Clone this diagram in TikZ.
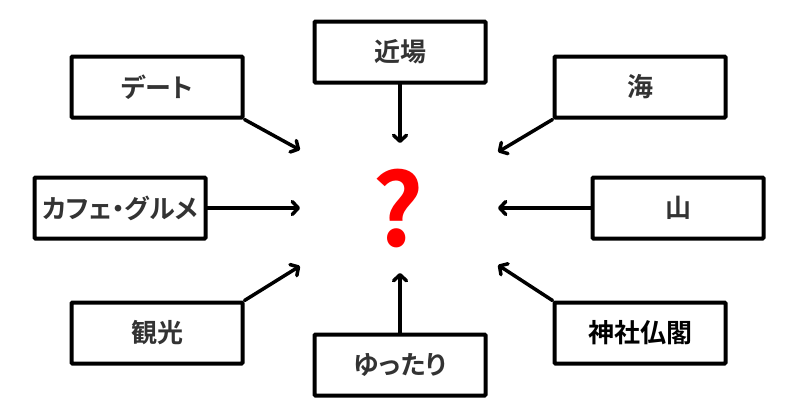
\documentclass[tikz,border=0pt]{standalone}
\usepackage{fontspec}
\newfontfamily\jp{Noto Sans CJK JP}[BoldFont={Noto Sans CJK JP Bold}, RawFeature=+palt]
\usetikzlibrary{arrows.meta}
\definecolor{txt}{HTML}{333333}
\tikzset{
  box/.style={draw=black, line width=4pt, rounded corners=1pt, minimum width=171pt, minimum height=61pt, inner sep=0pt, font=\jp\bfseries\fontsize{26pt}{30pt}\selectfont, text=txt},
  arr/.style={line width=3.5pt, line cap=round, -{Straight Barb[length=6pt,width=13pt,line cap=round,line join=round]}}
}
\begin{document}
\begin{tikzpicture}[x=1pt,y=-1pt]
\useasboundingbox (0,0) rectangle (800,418);
\fill[white] (0,0) rectangle (800,418);
\node[box] (date) at (157,87) {デート};
\node[box] (kinba) at (400,52) {近場};
\node[box] (cafe) at (120,208) {カフェ・グルメ};
\node[box] (kanko) at (157,333) {観光};
\node[box] (yuttari) at (400,365) {ゆったり};
\node[box] (umi) at (640,87) {海};
\node[box] (yama) at (678,208) {山};
\node[box, text=black] (jinja) at (640,333) {神社仏閣};
\node[text=red, font=\jp\bfseries\fontsize{100pt}{100pt}\selectfont, inner sep=0pt] (q) at (398,208) {?};
\coordinate (t1) at (300,150);
\coordinate (t2) at (400,143);
\coordinate (t3) at (300,208);
\coordinate (t4) at (300,266);
\coordinate (t5) at (400,273);
\coordinate (t6) at (498,152);
\coordinate (t7) at (498,208);
\coordinate (t8) at (498,265);
\draw[arr] (date.south east) -- (t1);
\draw[arr] (kinba.south) -- (t2);
\draw[arr] (cafe.east) -- (t3);
\draw[arr] (kanko.north east) -- (t4);
\draw[arr] (yuttari.north) -- (t5);
\draw[arr] (umi.south west) -- (t6);
\draw[arr] (yama.west) -- (t7);
\draw[arr] (jinja.north west) -- (t8);
\end{tikzpicture}
\end{document}
